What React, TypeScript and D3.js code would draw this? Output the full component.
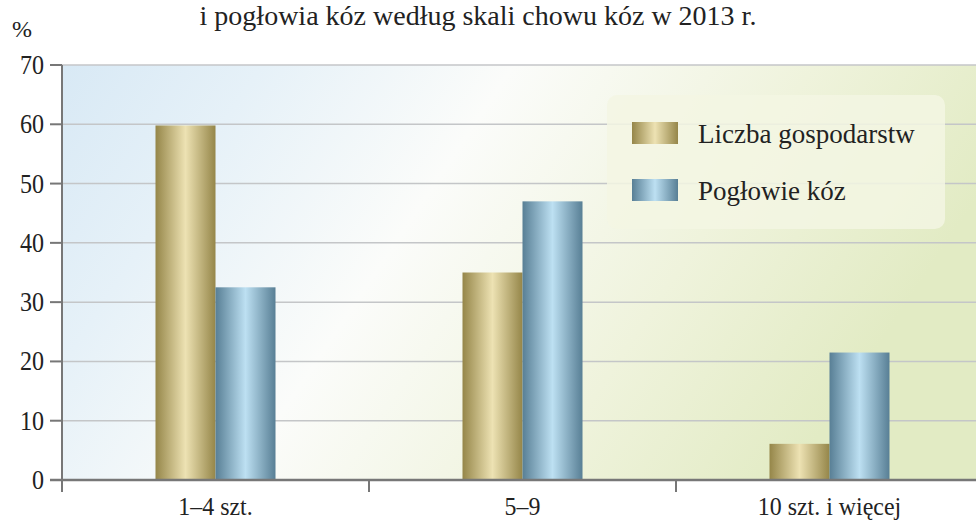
import React from "react";
import * as d3 from "d3";

const categories = ["1–4 szt.", "5–9", "10 szt. i więcej"];
const seriesNames = ["Liczba gospodarstw", "Pogłowie kóz"];
const gospodarstwa = [59.8, 35.0, 6.1];
const poglowie = [32.5, 47.0, 21.5];
const yTicks = [0, 10, 20, 30, 40, 50, 60, 70];
const titleText = "i pogłowia kóz według skali chowu kóz w 2013 r.";

const W = 976;
const H = 521;
const left = 62;
const right = 983;
const top = 65;
const bottom = 480;

export default function App() {
  const x = d3.scaleBand<string>().domain(categories).range([left, right]);
  const y = d3.scaleLinear().domain([0, 70]).range([bottom, top]);
  const barW = 60;
  const font = "Liberation Serif, serif";
  const series = [gospodarstwa, poglowie];
  const fills = ["url(#gold)", "url(#blue)"];
  return (
    <svg width={W} height={H} style={{ position: "absolute", left: 0, top: 0, fontFamily: font }}>
      <defs>
        <linearGradient id="bg" x1="0" y1="0" x2="1" y2="0.3">
          <stop offset="0" stopColor="#d8e9f5" />
          <stop offset="0.2" stopColor="#e6f1f8" />
          <stop offset="0.45" stopColor="#fbfcfa" />
          <stop offset="0.75" stopColor="#eff3dc" />
          <stop offset="1" stopColor="#e2ebc4" />
        </linearGradient>
        <linearGradient id="gold" x1="0" x2="1" y1="0" y2="0">
          <stop offset="0" stopColor="#958649" />
          <stop offset="0.5" stopColor="#ede2b3" />
          <stop offset="1" stopColor="#958649" />
        </linearGradient>
        <linearGradient id="blue" x1="0" x2="1" y1="0" y2="0">
          <stop offset="0" stopColor="#587f95" />
          <stop offset="0.5" stopColor="#bde0f2" />
          <stop offset="1" stopColor="#587f95" />
        </linearGradient>
      </defs>
      <rect width={W} height={H} fill="#ffffff" />
      <rect x={left} y={top} width={right - left} height={bottom - top} fill="url(#bg)" />
      {yTicks.map((t) => (
        <line key={"g" + t} x1={left} x2={right} y1={y(t)} y2={y(t)} stroke="#c4c6c8" strokeWidth={1.5} />
      ))}
      {categories.map((c, i) =>
        series.map((s, j) => {
          const cx = (x(c) as number) + x.bandwidth() / 2;
          const bx = cx - barW + j * barW;
          return (
            <rect key={c + j} x={bx} y={y(s[i])} width={barW} height={y(0) - y(s[i])} fill={fills[j]} />
          );
        })
      )}
      <rect x={607} y={95} width={338} height={134} rx={10} fill="#f3f6e3" opacity={0.85} />
      {seriesNames.map((n, j) => (
        <g key={n}>
          <rect x={632} y={122 + j * 57} width={46} height={22} fill={fills[j]} />
          <text x={698} y={143 + j * 57} fontSize={27} fill="#222">{n}</text>
        </g>
      ))}
      <line x1={left} x2={left} y1={top} y2={bottom + 12} stroke="#777" strokeWidth={2} />
      <line x1={left - 12} x2={right} y1={bottom} y2={bottom} stroke="#777" strokeWidth={2.5} />
      {yTicks.map((t) => (
        <g key={"t" + t}>
          <line x1={left - 12} x2={left} y1={y(t)} y2={y(t)} stroke="#777" strokeWidth={2} />
          <text transform={`translate(44,${y(t) + 9}) scale(0.86,1)`} textAnchor="end" fontSize={28} fill="#222">{t}</text>
        </g>
      ))}
      {categories.map((c, i) => (
        <g key={"x" + c}>
          {i > 0 && (
            <line x1={x(c) as number} x2={x(c) as number} y1={bottom} y2={bottom + 12} stroke="#777" strokeWidth={2} />
          )}
          <text transform={`translate(${(x(c) as number) + x.bandwidth() / 2},515) scale(0.92,1)`} textAnchor="middle" fontSize={26} fill="#222">{c}</text>
        </g>
      ))}
      <text x={12} y={37} fontSize={24} fill="#222">%</text>
      <text x={478} y={25} textAnchor="middle" fontSize={28} fill="#222">{titleText}</text>
    </svg>
  );
}
